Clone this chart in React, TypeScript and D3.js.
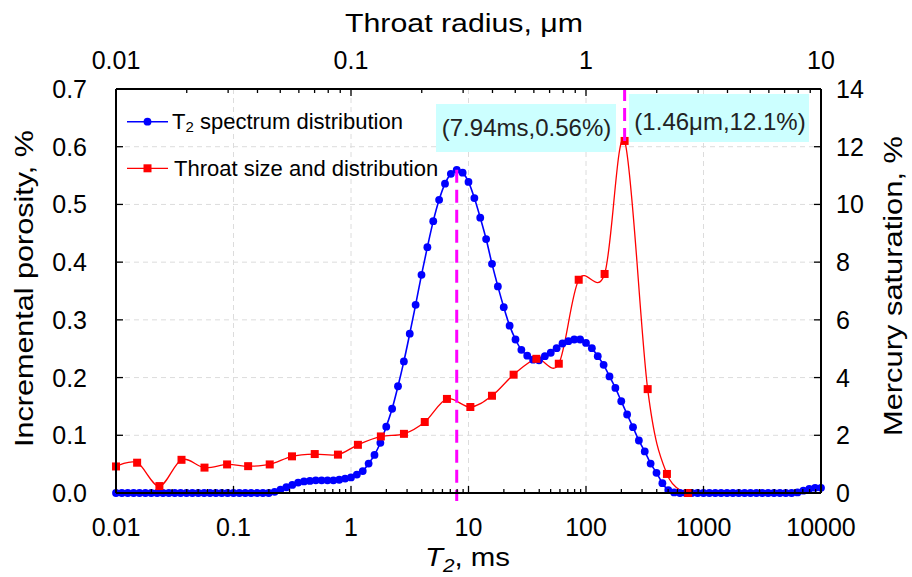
import React from 'react';
import * as d3 from 'd3';

// ---------- DATA ----------
// NMR T2 spectrum: incremental porosity (%) on a log grid of 20 points per decade, 0.01 ms .. 10000 ms
const T2_AMPLITUDE: number[] = [
  0, 0, 0, 0, 0, 0, 0, 0, 0, 0,
  0, 0, 0, 0, 0, 0, 0, 0, 0, 0,
  0, 0, 0, 0, 0, 0, 0, 0.002,
  0.006, 0.010, 0.014, 0.018, 0.020, 0.021, 0.022, 0.022, 0.022, 0.022,
  0.023, 0.025, 0.027, 0.032, 0.038, 0.051, 0.066, 0.087, 0.115, 0.146,
  0.185, 0.228, 0.276, 0.326, 0.378, 0.426, 0.471, 0.508, 0.536, 0.553,
  0.560, 0.555, 0.539, 0.511, 0.477, 0.440, 0.397, 0.358, 0.322, 0.290,
  0.266, 0.248, 0.238, 0.231, 0.230, 0.237, 0.243, 0.251, 0.259, 0.263,
  0.266, 0.266, 0.260, 0.251, 0.237, 0.222, 0.202, 0.182, 0.159, 0.136,
  0.114, 0.091, 0.072, 0.051, 0.035, 0.017, 0.005, 0.001,
  0, 0, 0, 0, 0, 0, 0, 0, 0, 0,
  0, 0, 0, 0, 0, 0, 0, 0, 0, 0,
  0.001, 0.004, 0.007, 0.009, 0.009,
];
const T2_START_EXP = -2;
const T2_PER_DECADE = 20;
const T2_MS: number[] = T2_AMPLITUDE.map((_, i) => Math.pow(10, T2_START_EXP + i / T2_PER_DECADE));

// Mercury injection: throat radius (µm) and mercury saturation increment (%)
const THROAT_RADIUS_UM: number[] = [
  0.0100, 0.0123, 0.0153, 0.0190, 0.0238, 0.0297, 0.0365, 0.0451, 0.0561, 0.0701,
  0.0880, 0.107, 0.134, 0.168, 0.206, 0.256, 0.322, 0.398, 0.492, 0.615,
  0.766, 0.931, 1.20, 1.46, 1.83, 2.21, 2.72,
];
const MERCURY_SAT: number[] = [
  0.92, 1.05, 0.24, 1.15, 0.88, 0.99, 0.93, 0.99, 1.27, 1.35,
  1.33, 1.67, 1.96, 2.05, 2.46, 3.26, 2.98, 3.37, 4.10, 4.65,
  4.48, 7.39, 7.59, 12.2, 3.60, 0.66, 0.0,
];

const X_TICKS = [0.01, 0.1, 1, 10, 100, 1000, 10000];
const X_TICK_LABELS = ['0.01', '0.1', '1', '10', '100', '1000', '10000'];
const TOP_TICKS = [0.01, 0.1, 1, 10];
const TOP_TICK_LABELS = ['0.01', '0.1', '1', '10'];
const LEFT_TICKS = [0, 0.1, 0.2, 0.3, 0.4, 0.5, 0.6, 0.7];
const LEFT_TICK_LABELS = ['0.0', '0.1', '0.2', '0.3', '0.4', '0.5', '0.6', '0.7'];
const RIGHT_TICKS = [0, 2, 4, 6, 8, 10, 12, 14];
const RIGHT_TICK_LABELS = ['0', '2', '4', '6', '8', '10', '12', '14'];

const PEAK_T2 = 7.94;
const PEAK_POROSITY = 0.56;
const PEAK_RADIUS = 1.46;
const PEAK_SAT = 12.1;

// ---------- LAYOUT ----------
const W = 912;
const H = 577;
const L = 116, R = 821, T = 89, B = 493;
const FONT = '"Liberation Sans", Arial, sans-serif';
const BLUE = '#0000ff';
const RED = '#ff0000';
const MAGENTA = '#ff00ff';

export default function App() {
  const x = d3.scaleLog().domain([0.01, 10000]).range([L, R]);
  const xTop = d3.scaleLog().domain([0.01, 10]).range([L, R]);
  const yL = d3.scaleLinear().domain([0, 0.7]).range([B, T]);
  const yR = d3.scaleLinear().domain([0, 14]).range([B, T]);

  const minorOf = (domain: [number, number]) => {
    const out: number[] = [];
    for (let e = Math.log10(domain[0]); e < Math.log10(domain[1]) - 1e-9; e++) {
      for (let m = 2; m <= 9; m++) out.push(m * Math.pow(10, e));
    }
    return out;
  };
  const xMinor = minorOf([0.01, 10000]);
  const topMinor = minorOf([0.01, 10]);

  const blueLine = d3
    .line<number>()
    .x((_, i) => x(T2_MS[i]))
    .y((d) => yL(d))
    .curve(d3.curveMonotoneX)(T2_AMPLITUDE) as string;

  const redLine = d3
    .line<number>()
    .x((_, i) => xTop(THROAT_RADIUS_UM[i]))
    .y((d) => yR(d))
    .curve(d3.curveCatmullRom.alpha(0))(MERCURY_SAT) as string;

  const redPeakIdx = d3.maxIndex(MERCURY_SAT);

  const tickFont = 25;
  const titleFont = 25.5;
  const dotR = 3.9;
  const sq = 8;

  return (
    <svg width={W} height={H} style={{ display: 'block', position: 'absolute', left: 0, top: 0, background: '#fff' }} fontFamily={FONT}>
      <rect x={0} y={0} width={W} height={H} fill="#fff" />
      {/* grid */}
      <g stroke="#dcdcdc" strokeWidth={1} strokeDasharray="5,4">
        {X_TICKS.slice(1, -1).map((t) => (
          <line key={'gx' + t} x1={x(t)} x2={x(t)} y1={T} y2={B} />
        ))}
        {LEFT_TICKS.slice(1, -1).map((t) => (
          <line key={'gy' + t} x1={L} x2={R} y1={yL(t)} y2={yL(t)} />
        ))}
      </g>

      {/* series */}
      <path d={blueLine} fill="none" stroke={BLUE} strokeWidth={1.6} />
      <path d={redLine} fill="none" stroke={RED} strokeWidth={1.3} />
      {T2_AMPLITUDE.map((v, i) => (
        <circle key={'b' + i} cx={x(T2_MS[i])} cy={yL(v)} r={dotR} fill={BLUE} />
      ))}
      {MERCURY_SAT.map((v, i) => (
        <rect key={'r' + i} x={xTop(THROAT_RADIUS_UM[i]) - sq / 2} y={yR(v) - sq / 2} width={sq} height={sq} fill={RED} />
      ))}

      {/* peak markers */}
      <line x1={x(PEAK_T2)} x2={x(PEAK_T2)} y1={yL(PEAK_POROSITY)} y2={B + 8} stroke={MAGENTA} strokeWidth={3} strokeDasharray="13,7" />
      <line x1={xTop(PEAK_RADIUS)} x2={xTop(PEAK_RADIUS)} y1={T - 1} y2={yR(MERCURY_SAT[redPeakIdx])} stroke={MAGENTA} strokeWidth={3} strokeDasharray="13,7" />

      {/* annotations */}
      <rect x={436} y={104} width={180} height={48} fill="#ccffff" />
      <text x={526.5} y={136} fontSize={24} textAnchor="middle" fill="#222">
        ({PEAK_T2}ms,{PEAK_POROSITY}%)
      </text>
      <rect x={629} y={94} width={180} height={48} fill="#ccffff" />
      <text x={720} y={130} fontSize={24} textAnchor="middle" fill="#222">
        ({PEAK_RADIUS}μm,{PEAK_SAT}%)
      </text>

      {/* axes frame */}
      <g stroke="#000" strokeWidth={2} fill="none">
        <line x1={L} x2={R} y1={B} y2={B} />
        <line x1={L} x2={R} y1={T} y2={T} />
        <line x1={L} x2={L} y1={T} y2={B} />
        <line x1={R} x2={R} y1={T} y2={B} />
      </g>
      <g stroke="#000" strokeWidth={1.3}>
        {X_TICKS.map((t) => (
          <line key={'xt' + t} x1={x(t)} x2={x(t)} y1={B} y2={B - 7} />
        ))}
        {xMinor.map((t) => (
          <line key={'xm' + t} x1={x(t)} x2={x(t)} y1={B} y2={B - 4} />
        ))}
        {TOP_TICKS.map((t) => (
          <line key={'tt' + t} x1={xTop(t)} x2={xTop(t)} y1={T} y2={T + 7} />
        ))}
        {topMinor.map((t) => (
          <line key={'tm' + t} x1={xTop(t)} x2={xTop(t)} y1={T} y2={T + 4} />
        ))}
        {LEFT_TICKS.map((t) => (
          <line key={'lt' + t} x1={L} x2={L + 7} y1={yL(t)} y2={yL(t)} />
        ))}
        {RIGHT_TICKS.map((t) => (
          <line key={'rt' + t} x1={R} x2={R - 7} y1={yR(t)} y2={yR(t)} />
        ))}
      </g>

      {/* tick labels */}
      <g fontSize={tickFont} fill="#000">
        {X_TICKS.map((t, i) => (
          <text key={'xl' + t} x={x(t)} y={536} textAnchor="middle">{X_TICK_LABELS[i]}</text>
        ))}
        {TOP_TICKS.map((t, i) => (
          <text key={'tl' + t} x={xTop(t)} y={69} textAnchor="middle">{TOP_TICK_LABELS[i]}</text>
        ))}
        {LEFT_TICKS.map((t, i) => (
          <text key={'ll' + t} x={87} y={yL(t) + 9} textAnchor="end">{LEFT_TICK_LABELS[i]}</text>
        ))}
        {RIGHT_TICKS.map((t, i) => (
          <text key={'rl' + t} x={836} y={yR(t) + 9} textAnchor="start">{RIGHT_TICK_LABELS[i]}</text>
        ))}
      </g>

      {/* axis titles */}
      <text x={464} y={32} fontSize={titleFont} textAnchor="middle" textLength={238} lengthAdjust="spacingAndGlyphs">Throat radius, μm</text>
      <text x={425} y={566} fontSize={titleFont} textLength={85} lengthAdjust="spacingAndGlyphs">
        <tspan fontStyle="italic">T</tspan>
        <tspan fontStyle="italic" fontSize={18} dy={6}>2</tspan>
        <tspan dy={-6}>, ms</tspan>
      </text>
      <text transform="translate(33,288.5) rotate(-90)" fontSize={titleFont} textAnchor="middle" textLength={317} lengthAdjust="spacingAndGlyphs">Incremental porosity, %</text>
      <text transform="translate(902,286) rotate(-90)" fontSize={titleFont} textAnchor="middle" textLength={300} lengthAdjust="spacingAndGlyphs">Mercury saturation, %</text>

      {/* legend */}
      <line x1={127} x2={168} y1={121.7} y2={121.7} stroke={BLUE} strokeWidth={1.6} />
      <circle cx={147.5} cy={121.7} r={dotR} fill={BLUE} />
      <text x={172} y={128.5} fontSize={22}>
        T<tspan fontSize={15} dy={3}>2</tspan>
        <tspan dy={-3}> spectrum distribution</tspan>
      </text>
      <line x1={127} x2={168} y1={168.3} y2={168.3} stroke={RED} strokeWidth={1.3} />
      <rect x={147.5 - sq / 2} y={168.3 - sq / 2} width={sq} height={sq} fill={RED} />
      <text x={174} y={175.5} fontSize={22}>Throat size and distribution</text>
    </svg>
  );
}
